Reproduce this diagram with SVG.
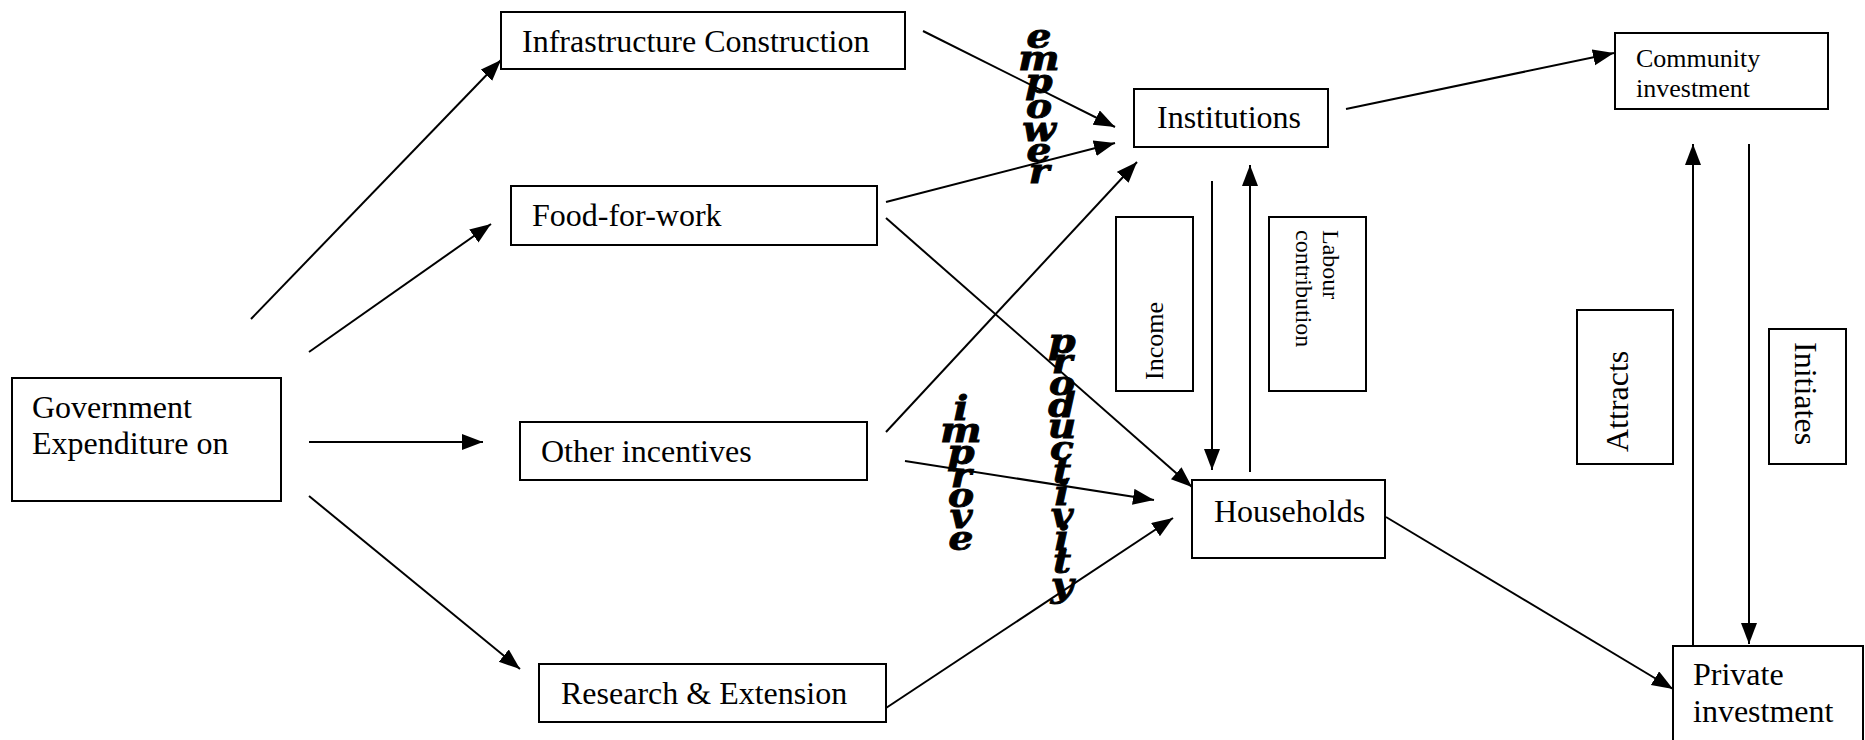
<svg xmlns="http://www.w3.org/2000/svg" width="1865" height="740" viewBox="0 0 1865 740">
<style>
.box{fill:#fff;stroke:#000;stroke-width:2}
.t{font-family:"Liberation Serif","Times New Roman",serif;font-size:32px;fill:#000}
.ts{font-family:"Liberation Serif","Times New Roman",serif;font-size:26px;fill:#000}
.tl{font-family:"Liberation Serif","Times New Roman",serif;font-size:24px;fill:#000}
.v{font-family:"DejaVu Serif",serif;font-weight:bold;font-style:italic;font-size:34px;fill:#000;stroke:#000;stroke-width:0.9;text-anchor:middle}
.c line{stroke:#000;stroke-width:2;marker-end:url(#ah)}
</style>
<defs>
<marker id="ah" markerUnits="userSpaceOnUse" markerWidth="22" markerHeight="18" refX="21" refY="8" orient="auto">
<path d="M0,0 L21,8 L0,16 z" fill="#000"/>
</marker>
</defs>
<rect width="1865" height="740" fill="#fff"/>
<g id="connectors" class="c">
<line x1="251" y1="319" x2="501" y2="60"/>
<line x1="309" y1="352" x2="491" y2="224"/>
<line x1="309" y1="442" x2="483" y2="442"/>
<line x1="309" y1="496" x2="520" y2="669"/>
<line x1="923" y1="31" x2="1115" y2="127"/>
<line x1="886" y1="202" x2="1115" y2="143"/>
<line x1="886" y1="218" x2="1192" y2="487"/>
<line x1="886" y1="432" x2="1137" y2="162"/>
<line x1="905" y1="461" x2="1154" y2="500"/>
<line x1="886" y1="708" x2="1173" y2="518"/>
<line x1="1212" y1="181" x2="1212" y2="470"/>
<line x1="1250" y1="472" x2="1250" y2="165"/>
<line x1="1346" y1="109" x2="1614" y2="53"/>
<line x1="1693" y1="645" x2="1693" y2="144"/>
<line x1="1749" y1="144" x2="1749" y2="644"/>
<line x1="1386" y1="517" x2="1673" y2="689"/>
</g>
<g id="gov"><rect class="box" x="12" y="378" width="269" height="123"/><text class="t" x="32" y="418">Government</text><text class="t" x="32" y="454">Expenditure on</text></g>
<g id="infra"><rect class="box" x="501" y="12" width="404" height="57"/><text class="t" x="522" y="52">Infrastructure Construction</text></g>
<g id="food"><rect class="box" x="511" y="186" width="366" height="59"/><text class="t" x="532" y="226">Food-for-work</text></g>
<g id="other"><rect class="box" x="520" y="422" width="347" height="58"/><text class="t" x="541" y="462">Other incentives</text></g>
<g id="research"><rect class="box" x="539" y="664" width="347" height="58"/><text class="t" x="561" y="704">Research &amp; Extension</text></g>
<g id="institutions"><rect class="box" x="1134" y="89" width="194" height="58"/><text class="t" x="1157" y="128">Institutions</text></g>
<g id="community"><rect class="box" x="1615" y="33" width="213" height="76"/><text class="ts" x="1636" y="67">Community</text><text class="ts" x="1636" y="97">investment</text></g>
<g id="income"><rect class="box" x="1116" y="217" width="77" height="174"/><text class="ts" transform="translate(1163,380) rotate(-90)">Income</text></g>
<g id="labour"><rect class="box" x="1269" y="217" width="97" height="174"/><text class="tl" transform="translate(1323,230) rotate(90)">Labour</text><text class="tl" transform="translate(1296,230) rotate(90)">contribution</text></g>
<g id="households"><rect class="box" x="1192" y="480" width="193" height="78"/><text class="t" x="1214" y="522">Households</text></g>
<g id="attracts"><rect class="box" x="1577" y="310" width="96" height="154"/><text class="t" transform="translate(1628,452) rotate(-90)">Attracts</text></g>
<g id="initiates"><rect class="box" x="1769" y="329" width="77" height="135"/><text class="t" transform="translate(1795,342) rotate(90)">Initiates</text></g>
<g id="private"><rect class="box" x="1673" y="646" width="190" height="110"/><text class="t" x="1693" y="685">Private</text><text class="t" x="1693" y="722">investment</text></g>
<g id="label-empower" transform="translate(1039,0) scale(1.15,1)"><text class="v"><tspan x="0" y="48">e</tspan><tspan x="0" y="70">m</tspan><tspan x="0" y="93">p</tspan><tspan x="0" y="118">o</tspan><tspan x="0" y="141">w</tspan><tspan x="0" y="162">e</tspan><tspan x="0" y="183">r</tspan></text></g>
<g id="label-improve" transform="translate(961,0) scale(1.15,1)"><text class="v"><tspan x="0" y="420">i</tspan><tspan x="0" y="442">m</tspan><tspan x="0" y="464">p</tspan><tspan x="0" y="487">r</tspan><tspan x="0" y="507">o</tspan><tspan x="0" y="528">v</tspan><tspan x="0" y="550">e</tspan></text></g>
<g id="label-productivity" transform="translate(1062,0) scale(1.15,1)"><text class="v"><tspan x="0" y="353">p</tspan><tspan x="0" y="373">r</tspan><tspan x="0" y="395">o</tspan><tspan x="0" y="417">d</tspan><tspan x="0" y="438">u</tspan><tspan x="0" y="460">c</tspan><tspan x="0" y="483">t</tspan><tspan x="0" y="505">i</tspan><tspan x="0" y="527">v</tspan><tspan x="0" y="550">i</tspan><tspan x="0" y="573">t</tspan><tspan x="0" y="597">y</tspan></text></g>
</svg>
